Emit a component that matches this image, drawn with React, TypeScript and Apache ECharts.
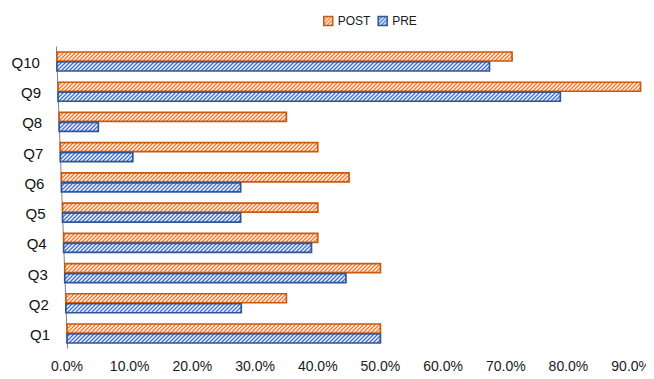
import React, { useEffect, useRef } from "react";
import * as echarts from "echarts";

const CATEGORIES = ["Q1", "Q2", "Q3", "Q4", "Q5", "Q6", "Q7", "Q8", "Q9", "Q10"];
const POST = [50, 35, 50, 40, 40, 45, 40, 35, 91.5, 71];
const PRE = [50, 27.8, 44.5, 39, 27.7, 27.7, 10.5, 5, 78.7, 67.4];
const X_TICKS_MAX = 90;
const X_INTERVAL = 10;

const FONT = "'Liberation Sans', Arial, sans-serif";
const SLANT = 0.037; // px of left shift per px upward (skewed value-axis origin)
const BAR_H = 9;
const GAP = 1;

const POST_STROKE = "#C55A11";
const POST_HATCH = "#ED7D31";
const PRE_STROKE = "#2F5597";
const PRE_HATCH = "#4472C4";

function hatch(color: string) {
  const svg =
    `<svg xmlns='http://www.w3.org/2000/svg' width='4' height='4'>` +
    `<rect width='4' height='4' fill='white'/>` +
    `<path d='M-1,1 L1,-1 M0,4 L4,0 M3,5 L5,3' stroke='${color}' stroke-width='1.5'/>` +
    `</svg>`;
  return {
    image: "data:image/svg+xml;charset=utf-8," + encodeURIComponent(svg),
    repeat: "repeat",
    imageWidth: 4,
    imageHeight: 4,
  } as any;
}

export default function App() {
  const ref = useRef<HTMLDivElement>(null);

  useEffect(() => {
    if (!ref.current) return;
    const chart = echarts.init(ref.current, undefined, { renderer: "svg" });
    const postFill = hatch(POST_HATCH);
    const preFill = hatch(PRE_HATCH);

    const barRenderer = (kind: "post" | "pre", fill: any, stroke: string) =>
      (params: any, api: any) => {
        const idx = api.value(1);
        const v = api.value(0);
        const pEnd = api.coord([v, idx]);
        const pZero = api.coord([0, idx]);
        const pRef = api.coord([0, 0]);
        const left = pZero[0] + (pEnd[1] - pRef[1]) * SLANT;
        const y = kind === "post" ? pEnd[1] - BAR_H - GAP / 2 : pEnd[1] + GAP / 2;
        return {
          type: "rect",
          shape: { x: left, y, width: pEnd[0] - left, height: BAR_H },
          style: { fill, stroke, lineWidth: 1.7 },
          z2: 10,
        };
      };

    const option: any = {
      animation: false,
      textStyle: { fontFamily: FONT },
      legend: {
        left: 318,
        top: 10,
        itemWidth: 9,
        itemHeight: 9,
        itemGap: 7,
        icon: "rect",
        textStyle: { fontSize: 12, color: "#1a1a1a", fontFamily: FONT },
        data: [
          { name: "POST", itemStyle: { color: postFill, borderColor: POST_STROKE, borderWidth: 1.5 } },
          { name: "PRE", itemStyle: { color: preFill, borderColor: PRE_STROKE, borderWidth: 1.5 } },
        ],
      },
      grid: { left: 67, right: 21, top: 46.4, bottom: 30.4, containLabel: false },
      xAxis: {
        type: "value",
        min: 0,
        max: X_TICKS_MAX,
        interval: X_INTERVAL,
        axisLine: { show: false },
        axisTick: { show: false },
        splitLine: { show: false },
        axisLabel: {
          margin: 10,
          fontSize: 14,
          color: "#1a1a1a",
          fontFamily: FONT,
          formatter: (v: number) => v.toFixed(1).replace(".", ",") + "%",
        },
      },
      yAxis: {
        type: "category",
        data: CATEGORIES,
        axisLine: { show: false },
        axisTick: { show: false },
        axisLabel: { show: false },
        splitLine: { show: false },
      },
      series: [
        {
          name: "axis",
          type: "custom",
          silent: true,
          data: [[0, 0]],
          encode: { x: 0, y: 1 },
          renderItem: (params: any, api: any) => {
            const cs = params.coordSys;
            const pRef = api.coord([0, 0]);
            const yb = cs.y + cs.height;
            const yt = cs.y;
            return {
              type: "line",
              shape: {
                x1: pRef[0] + (yb - pRef[1]) * SLANT,
                y1: yb,
                x2: pRef[0] + (yt - pRef[1]) * SLANT,
                y2: yt,
              },
              style: { stroke: "#808080", lineWidth: 1 },
              z2: 1,
            };
          },
          z: 1,
        },
        {
          name: "labels",
          type: "custom",
          silent: true,
          data: CATEGORIES.map((_, i) => [0, i]),
          encode: { x: 0, y: 1 },
          renderItem: (params: any, api: any) => {
            const idx = api.value(1);
            const p = api.coord([0, idx]);
            const pRef = api.coord([0, 0]);
            const left = p[0] + (p[1] - pRef[1]) * SLANT;
            return {
              type: "text",
              style: {
                text: CATEGORIES[idx],
                x: left - 17,
                y: p[1] + 1,
                align: "right",
                verticalAlign: "middle",
                fontSize: 15,
                fontFamily: FONT,
                fill: "#111",
              },
            };
          },
        },
        {
          name: "POST",
          type: "custom",
          silent: true,
          clip: false,
          itemStyle: { color: POST_HATCH, borderColor: POST_STROKE },
          data: POST.map((v, i) => [v, i]),
          encode: { x: 0, y: 1 },
          renderItem: barRenderer("post", postFill, POST_STROKE),
          z: 3,
        },
        {
          name: "PRE",
          type: "custom",
          silent: true,
          clip: false,
          itemStyle: { color: PRE_HATCH, borderColor: PRE_STROKE },
          data: PRE.map((v, i) => [v, i]),
          encode: { x: 0, y: 1 },
          renderItem: barRenderer("pre", preFill, PRE_STROKE),
          z: 3,
        },
      ],
    };
    chart.setOption(option);
    return () => chart.dispose();
  }, []);

  return <div ref={ref} style={{ width: 654, height: 379, margin: -8 }} />;
}
